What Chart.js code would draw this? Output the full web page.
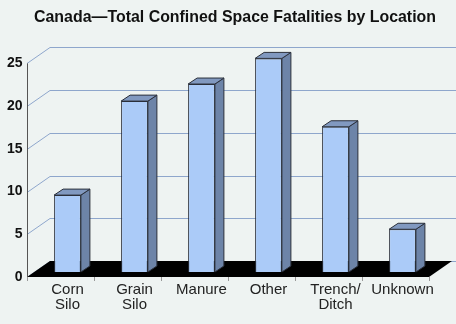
<!DOCTYPE html>
<html>
<head>
<meta charset="utf-8">
<script src="https://cdn.jsdelivr.net/npm/chart.js@4.4.1/dist/chart.umd.min.js"></script>
<style>
  body { margin: 0; background: #eef3f2; }
  #wrap { width: 456px; height: 324px; }
</style>
</head>
<body>
<div id="wrap"><canvas id="chart_fatalities" width="456" height="324"></canvas></div>
<script>
const categories = [['Corn', 'Silo'], ['Grain', 'Silo'], ['Manure'], ['Other'], ['Trench/', 'Ditch'], ['Unknown']];
const fatalities = [9, 20, 22, 25, 17, 5];
const yTicks = [0, 5, 10, 15, 20, 25];

const FONT = "Arial, 'Liberation Sans', sans-serif";

// offsets used to fake the 3d box: front edge, back wall, bar depth
const front = {dx: -7, dy: 5}, back = {dx: 16, dy: -11}, depth = {dx: 9, dy: -6};

const pseudo3d = {
  id: 'pseudo3d',
  beforeDatasetsDraw(chart) {
    const {ctx, chartArea: a, scales: {x, y}} = chart;
    const y0 = y.getPixelForValue(0);
    ctx.save();

    // grid lines on the side and back walls
    ctx.strokeStyle = '#8ea6cc';
    ctx.lineWidth = 1;
    yTicks.forEach(v => {
      const py = Math.round(y.getPixelForValue(v)) + 0.5;
      ctx.beginPath();
      ctx.moveTo(a.left + front.dx, py + front.dy);
      ctx.lineTo(a.left + back.dx, py + back.dy);
      ctx.lineTo(chart.width, py + back.dy);
      ctx.stroke();
    });

    // black floor
    ctx.fillStyle = '#000';
    ctx.beginPath();
    ctx.moveTo(a.left + front.dx, y0 + front.dy);
    ctx.lineTo(a.right + front.dx, y0 + front.dy);
    ctx.lineTo(a.right + back.dx, y0 + back.dy);
    ctx.lineTo(a.left + back.dx, y0 + back.dy);
    ctx.closePath();
    ctx.fill();

    // value axis + labels
    const ax = Math.round(a.left + front.dx) + 0.5;
    ctx.strokeStyle = '#555';
    ctx.beginPath();
    ctx.moveTo(ax, y.getPixelForValue(25) + front.dy);
    ctx.lineTo(ax, y0 + front.dy);
    ctx.stroke();
    ctx.fillStyle = '#111';
    ctx.font = 'bold 14px ' + FONT;
    ctx.textAlign = 'right';
    ctx.textBaseline = 'middle';
    yTicks.forEach(v => ctx.fillText(String(v), ax - 5, y.getPixelForValue(v) + front.dy));

    // category ticks under the floor
    const step = (a.right - a.left) / categories.length;
    ctx.strokeStyle = '#999';
    for (let k = 0; k <= categories.length; k++) {
      const tx = Math.round(a.left + front.dx + k * step) + 0.5;
      ctx.beginPath();
      ctx.moveTo(tx, y0 + front.dy);
      ctx.lineTo(tx, y0 + front.dy + 4);
      ctx.stroke();
    }
    ctx.fillStyle = '#222';
    ctx.font = '15px ' + FONT;
    ctx.textAlign = 'center';
    categories.forEach((lines, i) => {
      const cx = x.getPixelForValue(i);
      lines.forEach((t, j) => ctx.fillText(t, cx, y0 + 18 + j * 15));
    });

    // side and top faces of the bars
    ctx.strokeStyle = '#2a2f3a';
    chart.getDatasetMeta(0).data.forEach(bar => {
      const p = bar.getProps(['x', 'y', 'base', 'width'], true);
      const l = p.x - p.width / 2, r = p.x + p.width / 2;
      ctx.fillStyle = '#6d84a8';
      ctx.beginPath();
      ctx.moveTo(r, p.y);
      ctx.lineTo(r + depth.dx, p.y + depth.dy);
      ctx.lineTo(r + depth.dx, p.base + depth.dy);
      ctx.lineTo(r, p.base);
      ctx.closePath();
      ctx.fill();
      ctx.stroke();
      ctx.fillStyle = '#8199c0';
      ctx.beginPath();
      ctx.moveTo(l, p.y);
      ctx.lineTo(l + depth.dx, p.y + depth.dy);
      ctx.lineTo(r + depth.dx, p.y + depth.dy);
      ctx.lineTo(r, p.y);
      ctx.closePath();
      ctx.fill();
      ctx.stroke();
    });
    ctx.restore();
  }
};

new Chart('chart_fatalities', {
  type: 'bar',
  data: {
    labels: categories,
    datasets: [{
      data: fatalities,
      backgroundColor: '#abcbf8',
      borderColor: '#2a2f3a',
      borderWidth: 1,
      barPercentage: 0.4,
      categoryPercentage: 1
    }]
  },
  options: {
    responsive: false,
    animation: false,
    layout: {padding: {left: 34, right: 20, top: 0, bottom: 52}},
    scales: {
      x: {display: false},
      y: {display: false, min: 0, max: 25}
    },
    plugins: {
      legend: {display: false},
      tooltip: {enabled: false},
      title: {
        display: true,
        text: 'Canada\u2014Total Confined Space Fatalities by Location',
        color: '#111',
        font: {family: FONT, size: 17, weight: 'bold'},
        padding: {top: 7, bottom: 31}
      }
    }
  },
  plugins: [pseudo3d]
});
</script>
</body>
</html>
